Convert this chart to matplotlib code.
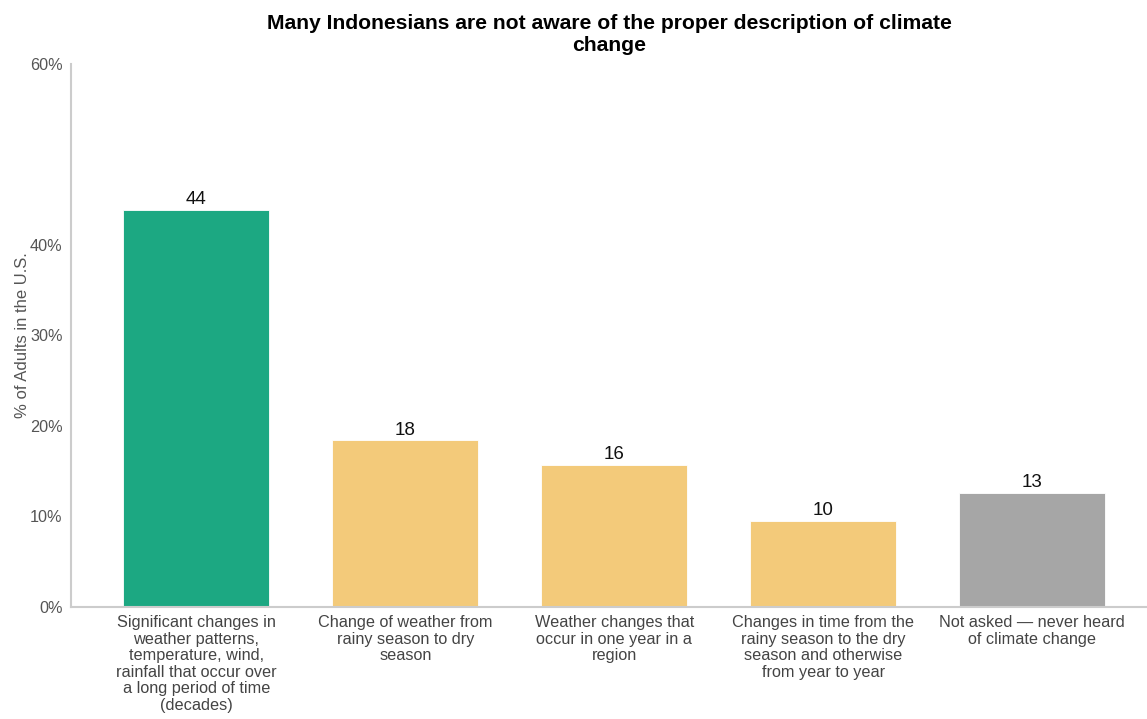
import matplotlib
matplotlib.use("Agg")
import matplotlib.pyplot as plt
from matplotlib.ticker import FuncFormatter

plt.rcParams['font.family'] = ['Liberation Sans', 'DejaVu Sans']

categories = [
    "Significant changes in\nweather patterns,\ntemperature, wind,\nrainfall that occur over\na long period of time\n(decades)",
    "Change of weather from\nrainy season to dry\nseason",
    "Weather changes that\noccur in one year in a\nregion",
    "Changes in time from the\nrainy season to the dry\nseason and otherwise\nfrom year to year",
    "Not asked \u2014 never heard\nof climate change",
]
values = [43.9, 18.4, 15.7, 9.5, 12.6]
labels = ["44", "18", "16", "10", "13"]
colors = ["#1ca882", "#f3ca7a", "#f3ca7a", "#f3ca7a", "#a6a6a6"]
yticks = [0, 10, 20, 30, 40, 60]

fig = plt.figure(figsize=(11.47, 7.19), dpi=100)
ax = fig.add_axes([0.0619, 0.1558, 0.9381, 0.7552])

x = list(range(len(categories)))
bars = ax.bar(x, values, width=0.7, color=colors, edgecolor="#ffffff", linewidth=0.6)
for xi, v, lab in zip(x, values, labels):
    ax.text(xi, v + 0.2, lab, ha="center", va="bottom", fontsize=13.5, color="#111111")

ax.set_xlim(-0.6, 4.55)
ax.set_ylim(0, 60)
ax.set_yticks(yticks)
ax.yaxis.set_major_formatter(FuncFormatter(lambda v, p: f"{int(v)}%"))
ax.set_xticks(x)
ax.set_xticklabels(categories, fontsize=11.7, color="#444444", linespacing=1.12)
ax.tick_params(axis="y", labelsize=11.7, labelcolor="#555555", length=0, pad=6)
ax.tick_params(axis="x", length=0, pad=6)

for s in ["top", "right"]:
    ax.spines[s].set_visible(False)
for s in ["left", "bottom"]:
    ax.spines[s].set_color("#cccccc")
    ax.spines[s].set_linewidth(1.5)

ax.set_ylabel("% of Adults in the U.S.", fontsize=12, color="#555555", labelpad=0)
ax.set_title("Many Indonesians are not aware of the proper description of climate\nchange",
             fontsize=15.2, fontweight="bold", color="#000000", pad=9, linespacing=1.25)

fig.savefig("out.png", dpi=100)
